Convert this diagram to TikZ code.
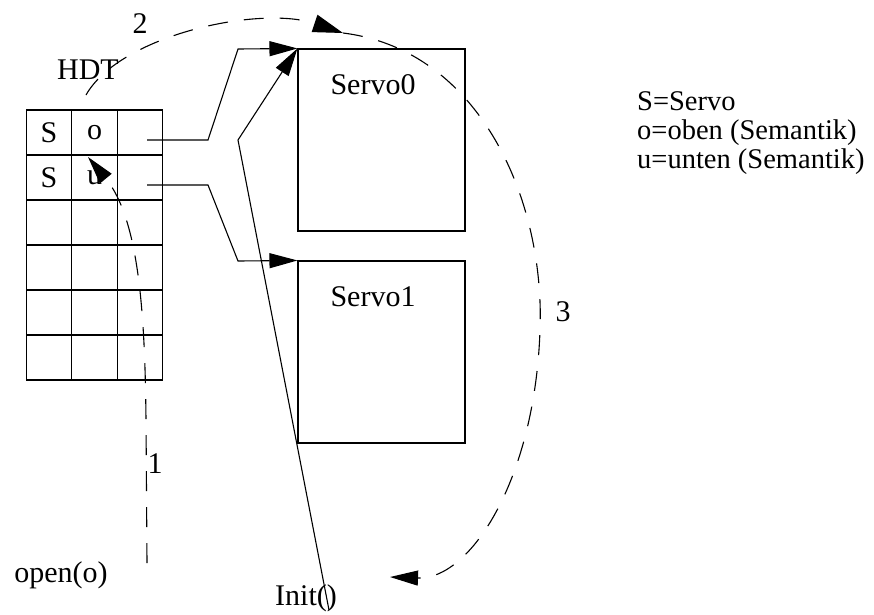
\documentclass[tikz,border=0pt]{standalone}
\usepackage{fontspec}
\setmainfont{Liberation Serif}
\usetikzlibrary{arrows.meta}
\tikzset{
  line/.style={line width=1.1pt},
  solidtip/.style={-{Triangle[length=28pt,width=15pt]}},
  dashline/.style={line width=1.1pt, dash pattern=on 20pt off 16pt},
  cell/.style={draw, line width=1.1pt, minimum width=45.5pt, minimum height=45pt, inner sep=0pt},
  servobox/.style={draw, line width=1.1pt, minimum width=167pt, minimum height=182pt, inner sep=0pt},
  lbl/.style={font=\fontsize{30}{32}\selectfont, inner sep=0pt},
  legend/.style={font=\fontsize{28.5}{30}\selectfont, inner sep=0pt, anchor=base west}
}
\begin{document}
\begin{tikzpicture}[x=1pt, y=-1pt]
\useasboundingbox (0,0) rectangle (874,614);

% hash directory table: 6 rows x 3 columns
\foreach \r in {1,...,6} {
  \foreach \c in {1,2,3} {
    \node[cell] (c-\r-\c) at ({49+45.5*(\c-1)}, {132.5+45*(\r-1)}) {};
  }
}
\node[lbl] (s1) at (c-1-1) {S};
\node[lbl] (o1) at (c-1-2) {o};
\node[lbl] (s2) at (c-2-1) {S};
\node[lbl] (u2) at (c-2-2) {u};
\node[lbl] (hdt) at (88,70) {HDT};

% servo objects
\node[servobox] (servo0) at (381.5,140) {};
\node[servobox] (servo1) at (381.5,352) {};
\node[lbl] (servo0lbl) at (373,85) {Servo0};
\node[lbl] (servo1lbl) at (373,297) {Servo1};

% labels
\node[lbl] (n1) at (155,464) {1};
\node[lbl] (n2) at (140,24) {2};
\node[lbl] (n3) at (563,312) {3};
\node[lbl] (open) at (61,575) {open(o)};
\node[lbl] (init) at (306,598) {Init()};

% legend
\node[legend] (leg1) at (637,110) {S=Servo};
\node[legend] (leg2) at (637,139) {o=oben (Semantik)};
\node[legend] (leg3) at (637,168) {u=unten (Semantik)};

% connector corner points
\coordinate (ptr0) at (147,140);
\coordinate (ptr1) at (147,185);
\coordinate (init0) at (329,610);
\coordinate (bend0) at (208,140);
\coordinate (bend1) at (208,185);
\coordinate (knee0) at (238,49);
\coordinate (knee1) at (238,261);
\coordinate (kneeI) at (238,140);

% pointers from the table to the servo objects
\draw[line, solidtip] (ptr0) -- (bend0) -- (knee0) -- (servo0.north west);
\draw[line, solidtip] (ptr1) -- (bend1) -- (knee1) -- (servo1.north west);
\draw[line, solidtip] (init0) -- (kneeI) -- (servo0.north west);

% dashed call sequence
\coordinate (d1s) at (147,563);
\coordinate (d1m) at (146,420);
\coordinate (d1e) at (88,157);
\coordinate (d2s) at (86,95);
\coordinate (d2e) at (343,33);
\coordinate (d3m) at (540,330);
\coordinate (d3e) at (390,577);

\draw[dashline, solidtip] (d1s) -- (d1m) .. controls (145,320) and (140,220) .. (d1e);
\draw[dashline, -{Triangle[length=30pt,width=18pt]}] (d2s) .. controls (120,35) and (260,5) .. (d2e);
\draw[dashline, solidtip] (d2e) .. controls (480,50) and (545,200) .. (d3m)
  .. controls (535,480) and (470,580) .. (d3e);
\end{tikzpicture}
\end{document}
